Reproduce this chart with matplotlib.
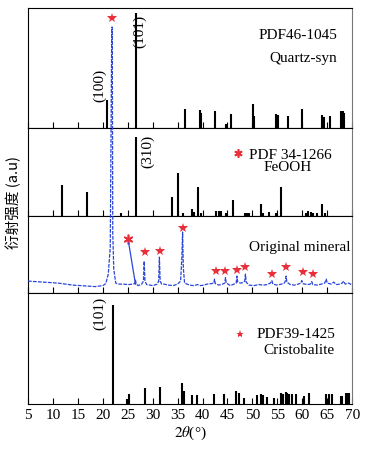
import numpy as np
import matplotlib
matplotlib.use('Agg')
import matplotlib.pyplot as plt

plt.rcParams['font.family'] = ['Liberation Serif', 'DejaVu Serif']
plt.rcParams['mathtext.fontset'] = 'stix'

# Quartz-syn PDF46-1045 (peak position, height)
quartz_pos = [20.86, 26.64, 36.54, 39.4, 39.65, 42.4, 44.7, 45.7, 50.1, 50.35, 54.8, 55.1,
              57.2, 59.9, 63.9, 64.4, 65.6, 67.7, 68.1, 68.3]
quartz_int = [28, 115, 19, 18, 15, 17, 4, 14, 24, 12, 14, 13, 12, 19, 13, 11, 12, 17, 17, 15]

# FeOOH PDF 34-1266
feooh_pos = [11.8, 16.8, 23.7, 26.7, 33.9, 35.1, 36.0, 37.9, 38.3, 39.0, 39.7, 42.7, 43.2,
             43.7, 44.7, 46.1, 48.5, 49.0, 49.3, 51.7, 52.1, 53.3, 54.7, 55.7, 60.7, 61.2,
             61.7, 62.2, 63.0, 64.0, 64.5]
feooh_int = [31, 24, 3, 79, 19, 43, 3, 7, 4, 29, 3, 5, 5, 5, 3, 16, 3, 3, 3, 12, 3, 4, 3,
             29, 3, 5, 4, 3, 3, 12, 3]

# Original mineral pattern
orig_x = [5.0, 6.5, 8.0, 9.5, 11.0, 12.5, 14.0, 15.5, 17.0, 18.5, 20.0, 20.6, 21.1, 21.5,
          21.8, 21.9, 22.0, 22.2, 22.6, 23.2, 24.1, 25.0, 26.1, 26.4, 26.55, 26.7, 27.1,
          27.8, 28.15, 28.3, 28.45, 28.8, 30.1, 30.9, 31.2, 31.35, 31.5, 31.8, 32.2, 33.2,
          34.1, 35.0, 35.6, 35.85, 36.0, 36.15, 36.4, 37.4, 38.2, 39.0, 39.6, 40.3, 40.9,
          41.8, 42.25, 42.4, 42.55, 43.3, 44.0, 44.45, 44.6, 44.75, 45.6, 46.3, 46.75,
          46.9, 47.05, 47.6, 48.1, 48.45, 48.6, 48.75, 49.3, 50.3, 51.3, 52.2, 52.9, 53.6,
          53.9, 54.1, 54.9, 55.8, 56.4, 56.6, 56.75, 56.9, 57.6, 58.4, 59.2, 59.7, 59.9,
          60.1, 61.0, 61.6, 61.9, 62.1, 63.0, 63.8, 64.5, 64.8, 65.0, 65.8, 66.3, 66.8,
          67.5, 68.0, 68.3, 68.6, 69.3, 70.0]
orig_y = [12, 11.5, 11, 10.5, 10, 9, 8, 7.5, 7, 6.5, 7.5, 9.5, 19, 46,
          266, 266, 60, 24, 10, 9, 9, 8.5, 9, 9.5, 13, 9, 7.5,
          9, 12, 32, 12, 8.5, 7.5, 9, 12, 36, 12, 9, 9, 8,
          7.5, 9, 12, 35, 61, 25, 10, 8, 7.5, 8.5, 7.5, 8, 9,
          9.5, 10, 14, 9.5, 8, 9, 10, 15.5, 10, 7.5, 9, 10,
          17, 11, 10, 10.5, 12, 19, 11, 8, 7.5, 8.5, 8, 8.5, 10,
          12.5, 9, 8, 9, 10, 12, 17, 11, 8.5, 8, 9, 10, 12.5,
          9.5, 8.5, 9, 11.5, 8.5, 8, 9, 10, 14, 10, 9, 11, 8.5,
          9, 10, 12, 9, 10, 8]
star_x = [28.4, 31.4, 36.1, 42.6, 44.6, 46.9, 48.6, 53.9, 56.7, 60.1, 62.1]
star_y = [40.7, 42.3, 65, 22.3, 22.3, 23.3, 26.3, 19, 25.7, 20.7, 19]

# Cristobalite PDF39-1425
crist_pos = [21.95, 24.9, 25.2, 28.4, 31.4, 35.9, 36.2, 37.9, 38.8, 42.3, 44.3, 46.7, 47.3,
             48.3, 51.0, 51.7, 52.1, 53.0, 54.3, 55.7, 56.2, 56.7, 57.0, 57.3, 58.0, 58.7,
             60.3, 61.3, 64.7, 65.3, 66.0, 67.7, 68.0, 68.7, 69.0, 69.3]
crist_int = [99, 5, 10, 16, 17, 21, 13, 9, 9, 10, 10, 13, 11, 6, 9, 10, 9, 7, 6, 11, 10,
             12, 11, 10, 10, 10, 8, 11, 10, 10, 10, 8, 8, 11, 11, 11]

xticks = np.arange(5, 71, 5)
panel_h = [120, 88, 77, 111]

fig, axes = plt.subplots(4, 1, figsize=(3.68, 4.5), dpi=100, sharex=True,
                         gridspec_kw=dict(height_ratios=panel_h, hspace=0))
fig.subplots_adjust(left=0.076, right=0.957, top=0.982, bottom=0.102)
ax1, ax2, ax3, ax4 = axes

for ax, h in zip(axes, panel_h):
    ax.set_xlim(5, 70)
    ax.set_ylim(0, h)
    ax.set_yticks([])
    ax.set_xticks(xticks)
    ax.tick_params(axis='x', direction='in', length=4, width=0.8, labelsize=11,
                   bottom=True, top=False)
    for s in ax.spines.values():
        s.set_linewidth(0.8)
    ax.spines['right'].set_color('#777777')

ax1.vlines(quartz_pos, 0, quartz_int, color='black', lw=1.5)
ax1.text(67.0, 93, 'PDF46-1045', ha='right', va='center', fontsize=11)
ax1.text(67.0, 70, 'Quartz-syn', ha='right', va='center', fontsize=11)
ax1.text(19.4, 43, '(100)', rotation=90, ha='center', va='center', fontsize=11)
ax1.text(27.3, 97, '(101)', rotation=90, ha='center', va='center', fontsize=11)

ax2.vlines(feooh_pos, 0, feooh_int, color='black', lw=1.5)
ax2.plot(47.2, 63, marker=(6, 2, 0), ms=6, mew=1.2, color='#e8303a')
ax2.text(57.7, 61, 'PDF 34-1266', ha='center', va='center', fontsize=11)
ax2.text(57.0, 49, 'FeOOH', ha='center', va='center', fontsize=11)
ax2.text(28.9, 65, '(310)', rotation=90, ha='center', va='center', fontsize=11)

ax3.plot(orig_x, orig_y, color='#2a45d8', lw=0.9, dashes=(3, 1), clip_on=False, zorder=5)
ax3.plot(star_x, star_y, ls='none', marker='*', ms=7.5, color='#e8303a', mew=0)
ax3.plot(21.9, 275, marker='*', ms=7, color='#e8303a', mew=0, clip_on=False)
ax3.plot(25.1, 54, marker=(6, 2, 0), ms=7, mew=1.2, color='#e8303a')
ax3.plot([25.2, 26.55], [50, 9], color='#2a45d8', lw=0.9)
ax3.text(69.6, 46, 'Original mineral', ha='right', va='center', fontsize=11)

ax4.vlines(crist_pos, 0, crist_int, color='black', lw=1.5)
ax4.plot(47.5, 70, marker='*', ms=6, color='#e8303a', mew=0)
ax4.text(66.7, 70, 'PDF39-1425', ha='right', va='center', fontsize=11)
ax4.text(66.5, 54, 'Cristobalite', ha='right', va='center', fontsize=11)
ax4.text(19.3, 91, '(101)', rotation=90, ha='center', va='center', fontsize=11)

ax4.set_xlabel(r'$2\theta$(°)', fontsize=11, labelpad=2)
fig.text(0.037, 0.55, '衍射强度 (a.u)', rotation=90, ha='center', va='center',
         fontsize=10.5, family=['Noto Sans CJK SC', 'DejaVu Sans'])

plt.savefig('out.png', dpi=100)
